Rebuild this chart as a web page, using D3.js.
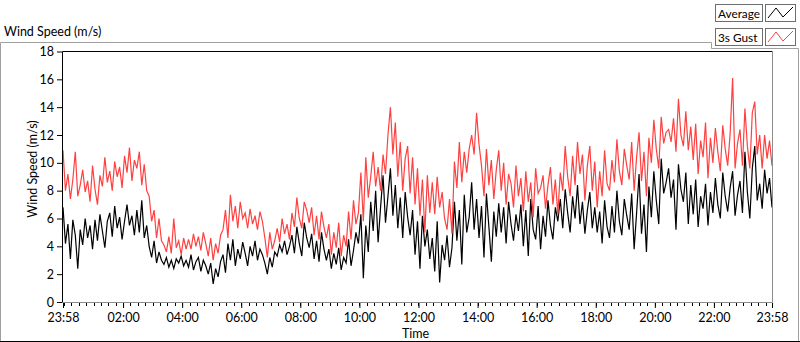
<!DOCTYPE html>
<html><head><meta charset="utf-8">
<script src="https://cdn.jsdelivr.net/npm/d3@7"></script>
<style>
html,body{margin:0;padding:0;background:#fff;}
svg{display:block;font-family:Lato,"Noto Sans",sans-serif;}
</style></head>
<body><svg id="c" width="800" height="342"></svg>
<script>
// ---- data (5-minute samples from 23:58 to 23:58) ----
const average = [
6.8,4.2,5.6,3.1,5.9,4.8,2.4,5.2,4.1,6.0,
4.6,5.5,3.8,5.9,4.4,6.3,5.1,3.9,5.8,6.4,
4.7,6.9,5.3,6.1,4.5,5.8,7.0,5.5,6.2,4.8,
6.6,5.0,7.3,4.6,5.5,4.0,3.2,4.4,2.8,3.6,
3.0,2.7,3.2,2.5,3.0,2.4,3.1,2.8,3.3,2.6,
3.0,2.5,3.4,2.3,2.9,3.2,2.2,3.0,2.6,2.0,
2.8,1.3,2.4,1.8,2.9,3.4,2.1,4.2,3.0,4.5,
2.6,3.8,3.1,4.3,3.5,2.6,4.0,3.3,4.4,3.0,
3.8,3.4,2.8,2.0,3.2,2.5,3.6,3.3,4.1,3.6,
4.4,3.4,4.0,4.8,3.5,5.4,4.2,3.3,5.7,4.6,
3.9,4.9,3.1,4.4,2.9,5.0,3.8,3.0,3.8,2.4,
3.5,2.7,3.9,2.3,3.2,2.8,4.5,2.6,3.7,5.0,
4.2,6.3,1.7,5.5,3.6,7.2,5.1,8.0,4.3,6.8,
9.1,5.7,7.6,9.6,6.2,8.4,5.3,7.5,4.6,7.9,
6.1,4.8,6.6,3.4,5.8,2.4,6.2,4.0,5.2,3.1,
4.6,2.2,5.8,1.4,4.1,3.0,4.8,2.5,3.9,7.2,
4.4,6.6,2.7,7.7,5.0,6.1,8.6,5.2,7.4,4.6,
6.9,3.2,7.8,5.4,2.9,6.5,4.7,7.1,5.0,6.8,
4.2,7.2,5.6,4.4,6.3,5.1,7.0,4.0,6.6,3.3,
7.4,5.2,4.5,6.9,3.8,6.2,4.7,7.3,5.5,4.5,
6.8,5.8,7.4,5.3,8.1,6.4,5.0,7.6,6.0,8.4,
5.6,7.2,4.9,6.6,7.9,5.3,6.8,5.0,6.5,4.2,
7.3,5.4,4.6,6.9,5.0,8.0,5.8,4.8,7.4,6.2,
5.2,7.8,3.8,6.4,9.2,4.9,7.0,3.6,8.3,6.1,
9.4,7.3,5.6,10.3,7.8,8.6,9.6,7.5,8.8,5.2,
9.9,8.1,7.2,9.3,5.6,8.4,6.3,8.8,5.4,7.6,
6.7,8.5,5.5,7.9,6.4,8.9,7.0,6.0,9.3,7.6,
6.5,8.2,9.4,6.2,7.7,8.7,6.4,10.8,7.9,6.0,
9.6,11.2,7.3,8.5,6.7,9.5,7.8,8.9,6.8
];
const gust = [
10.9,8.0,9.2,7.4,8.8,10.8,7.6,8.4,9.5,7.9,
8.7,7.2,9.8,8.1,7.0,9.1,8.3,10.4,8.6,9.4,
8.0,10.1,9.0,9.7,8.2,10.5,9.3,11.1,8.7,10.2,
9.6,10.8,8.4,9.9,8.0,7.6,5.8,6.6,4.6,6.0,
4.4,4.1,3.6,4.7,3.5,6.0,3.9,4.4,3.4,4.6,
3.8,4.5,3.8,4.9,4.0,4.7,3.7,5.0,4.2,3.3,
4.6,3.0,4.2,3.5,4.8,5.2,6.6,4.6,7.7,5.8,
6.9,5.3,7.2,6.0,6.4,5.3,6.7,5.6,6.2,5.2,
6.5,5.8,4.6,3.2,5.0,3.8,4.4,5.3,4.3,6.0,
4.9,5.6,4.5,6.4,5.4,7.5,6.0,5.3,7.2,6.6,
5.7,6.8,4.8,6.2,4.5,6.5,5.4,4.6,5.6,3.4,
5.0,3.9,5.7,3.3,4.8,4.0,6.5,4.5,7.3,5.6,
6.4,9.3,5.8,10.4,7.5,9.0,10.8,8.3,9.7,8.0,
10.6,9.2,12.0,14.0,10.6,12.9,9.0,11.5,8.0,10.3,
11.2,7.8,10.4,7.0,9.6,6.2,8.8,5.0,9.1,6.4,
8.6,6.3,9.0,6.8,7.9,6.0,5.2,7.4,4.9,10.1,
8.2,11.5,8.6,10.8,9.3,11.0,12.0,10.6,13.6,11.3,
9.8,7.6,11.0,8.4,10.2,7.4,9.5,10.9,8.0,10.0,
7.0,9.2,8.5,6.8,9.8,7.6,8.9,6.5,9.4,7.2,
8.6,6.1,9.6,7.8,8.2,9.1,6.7,8.4,9.7,7.0,
8.8,6.3,9.3,8.0,11.2,9.0,7.6,10.5,8.4,11.5,
9.2,10.6,7.3,9.8,11.2,8.0,10.1,6.8,9.4,7.6,
10.9,8.5,8.0,10.2,8.6,11.7,9.4,8.4,11.0,9.8,
8.8,11.5,8.0,10.4,12.2,8.7,10.8,7.6,11.8,10.0,
13.1,11.0,9.6,13.3,11.4,12.2,12.4,11.5,13.2,10.8,
14.6,12.0,11.2,13.7,10.9,12.6,10.2,12.8,9.2,11.6,
10.4,12.9,8.9,11.8,10.0,12.5,10.8,9.4,12.7,11.0,
9.8,12.1,16.1,9.6,11.4,12.4,9.8,13.9,11.2,9.6,
13.6,14.4,10.6,12.0,9.6,12.0,10.3,11.6,9.8
];
const seriesNames = ["Average", "3s Gust"];
const seriesColors = ["#000000", "#ff4040"];
const yTicks = [0,2,4,6,8,10,12,14,16,18];
const xTickMinutes = [0,122,242,362,482,602,722,842,962,1082,1202,1322,1440];
const xTickLabels = ["23:58","02:00","04:00","06:00","08:00","10:00","12:00","14:00","16:00","18:00","20:00","22:00","23:58"];
const spanMinutes = 1440;

// ---- layout ----
const FS = 12.5;
const svg = d3.select("#c");
const L = 63, R = 772, T = 51.5, B = 302;
const x = d3.scaleLinear().domain([0, spanMinutes]).range([L, R]);
const y = d3.scaleLinear().domain([0, 18]).range([B, T]);

// outer frame
svg.append("path")
  .attr("d", "M0.5,342 L0.5,42.5 L711.5,42.5 L711.5,48.5 L798.5,48.5 L798.5,342")
  .attr("fill", "none").attr("stroke", "#a0a0a0");
svg.append("line").attr("x1", 0).attr("x2", 800).attr("y1", 341.5).attr("y2", 341.5)
  .attr("stroke", "#000");

svg.append("text").attr("x", 4).attr("y", 36).attr("font-size", FS).attr("fill", "#000")
  .text("Wind Speed (m/s)");

// plot data
const idxX = d3.scaleLinear().domain([0, average.length - 1]).range([0, spanMinutes]);
const line = d3.line().x((d, i) => x(idxX(i))).y(d => y(d));
const g = svg.append("g");
g.append("path").datum(average).attr("d", line).attr("fill", "none")
  .attr("stroke", seriesColors[0]).attr("stroke-width", 1.2);
g.append("path").datum(gust).attr("d", line).attr("fill", "none")
  .attr("stroke", seriesColors[1]).attr("stroke-width", 1.2);

// plot frame
svg.append("line").attr("x1", L - 0.5).attr("x2", R + 0.5).attr("y1", T).attr("y2", T).attr("stroke", "#000");
svg.append("line").attr("x1", L - 0.5).attr("x2", L - 0.5).attr("y1", T).attr("y2", B + 0.5).attr("stroke", "#000");
svg.append("line").attr("x1", R + 0.5).attr("x2", R + 0.5).attr("y1", T).attr("y2", B + 0.5).attr("stroke", "#8c8c8c");
svg.append("line").attr("x1", L - 0.5).attr("x2", R + 0.5).attr("y1", B + 0.5).attr("y2", B + 0.5).attr("stroke", "#8c8c8c");

// y axis
const ya = svg.append("g").attr("transform", `translate(${L - 1},0)`)
  .call(d3.axisLeft(y).tickValues(yTicks).tickSize(5).tickPadding(3));
ya.select(".domain").remove();
ya.selectAll("text").attr("font-size", FS).attr("font-family", "Lato").attr("fill", "#000");
ya.selectAll("line").attr("stroke", "#000");

svg.append("text").attr("transform", `translate(37,169) rotate(-90)`)
  .attr("text-anchor", "middle").attr("font-size", FS).attr("fill", "#000")
  .text("Wind Speed (m/s)");

// x axis minor ticks (every 15 min from 00:00)
const minor = d3.range(2, spanMinutes, 15);
svg.append("g").selectAll("line").data(minor).join("line")
  .attr("x1", d => Math.round(x(d)) + 0.5).attr("x2", d => Math.round(x(d)) + 0.5)
  .attr("y1", B + 1).attr("y2", B + 4).attr("stroke", "#000");
const xa = svg.append("g").attr("transform", `translate(0,${B + 1})`)
  .call(d3.axisBottom(x).tickValues(xTickMinutes).tickFormat((d, i) => xTickLabels[i]).tickSize(5).tickPadding(5));
xa.select(".domain").remove();
xa.selectAll("text").attr("font-size", FS).attr("font-family", "Lato").attr("fill", "#000");
xa.selectAll("line").attr("stroke", "#000");

svg.append("text").attr("x", (L + R) / 2 - 2).attr("y", 338).attr("text-anchor", "middle")
  .attr("font-size", FS).attr("fill", "#000").text("Time");

// legend
const lg = svg.append("g");
seriesNames.forEach((name, i) => {
  const y0 = 4 + i * 24;
  lg.append("rect").attr("x", 715.5).attr("y", y0 + 0.5).attr("width", 47).attr("height", 17)
    .attr("fill", "#fff").attr("stroke", "#6e6e6e");
  lg.append("text").attr("x", 718).attr("y", y0 + 13.5).attr("font-size", 11.8).attr("fill", "#000").text(name);
  lg.append("rect").attr("x", 765.5).attr("y", y0 + 0.5).attr("width", 30).attr("height", 17)
    .attr("fill", "#fff").attr("stroke", "#6e6e6e");
  lg.append("path").attr("d", `M768,${y0 + 14} L776,${y0 + 4} L783,${y0 + 13} L793,${y0 + 3}`)
    .attr("fill", "none").attr("stroke", seriesColors[i]);
});
</script></body></html>
